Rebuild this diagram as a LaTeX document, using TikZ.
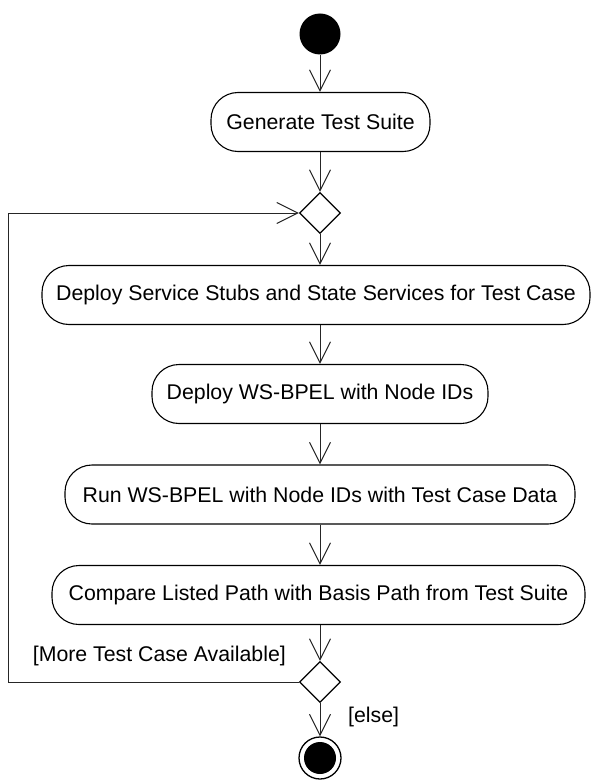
\documentclass[tikz,border=0pt]{standalone}
\usepackage{fontspec}
\setmainfont{Liberation Sans}
\usetikzlibrary{arrows.meta,shapes.geometric}
\begin{document}
\begin{tikzpicture}[x=1pt,y=-1pt,
  act/.style={draw=black,line width=1.1pt,rounded corners=27pt,minimum height=59pt,inner sep=0pt,font=\fontsize{21.3}{25}\selectfont},
  dec/.style={draw=black,line width=1.3pt,diamond,minimum width=41pt,minimum height=41pt,inner sep=0pt},
  flow/.style={draw=black!85,line width=1pt,-{Straight Barb[length=21pt,width=21pt]}},
  line/.style={draw=black!85,line width=1pt},
  lbl/.style={font=\fontsize{21.3}{25}\selectfont,inner sep=0pt}]
\useasboundingbox (0,0) rectangle (592,781);
\fill[white] (0,0) rectangle (592,781);

\node[circle,fill=black,minimum size=41pt,inner sep=0pt] (start) at (320,34) {};
\node[act,minimum width=219pt] (gen) at (320.5,122) {Generate Test Suite};
\node[dec] (d1) at (320,213) {};
\node[act,minimum width=548pt] (dep) at (316,295) {Deploy Service Stubs and State Services for Test Case};
\node[act,minimum width=336pt] (ws) at (320,394) {Deploy WS-BPEL with Node IDs};
\node[act,minimum width=510pt] (run) at (320,494.5) {Run WS-BPEL with Node IDs with Test Case Data};
\node[act,minimum width=533pt] (cmp) at (318.5,595) {Compare Listed Path with Basis Path from Test Suite};
\node[dec] (d2) at (320,682) {};
\node[circle,draw=black,line width=1.3pt,minimum size=42pt,inner sep=0pt] (fin) at (320,758) {};
\node[circle,fill=black,minimum size=32pt,inner sep=0pt] (finin) at (320,758) {};

\draw[flow] (start.south) -- (start.south |- gen.north);
\draw[flow] (d1.north |- gen.south) -- (d1.north);
\draw[flow] (d1.south) -- (d1.south |- dep.north);
\draw[flow] (320,0 |- dep.south) -- (320,0 |- ws.north);
\draw[flow] (ws.south) -- (ws.south |- run.north);
\draw[flow] (run.south) -- (run.south |- cmp.north);
\draw[flow] (d2.north |- cmp.south) -- (d2.north);
\draw[flow] (d2.south) -- (fin.north);
\coordinate (lb) at (8,682);
\coordinate (lt) at (8,213);
\draw[line] (d2.west) -- (lb) -- (lt);
\draw[flow] (lt) -- (d1.west);

\node[lbl,anchor=east] (more) at (286,656) {[More Test Case Available]};
\node[lbl,anchor=west] (else) at (348,717) {[else]};
\end{tikzpicture}
\end{document}
